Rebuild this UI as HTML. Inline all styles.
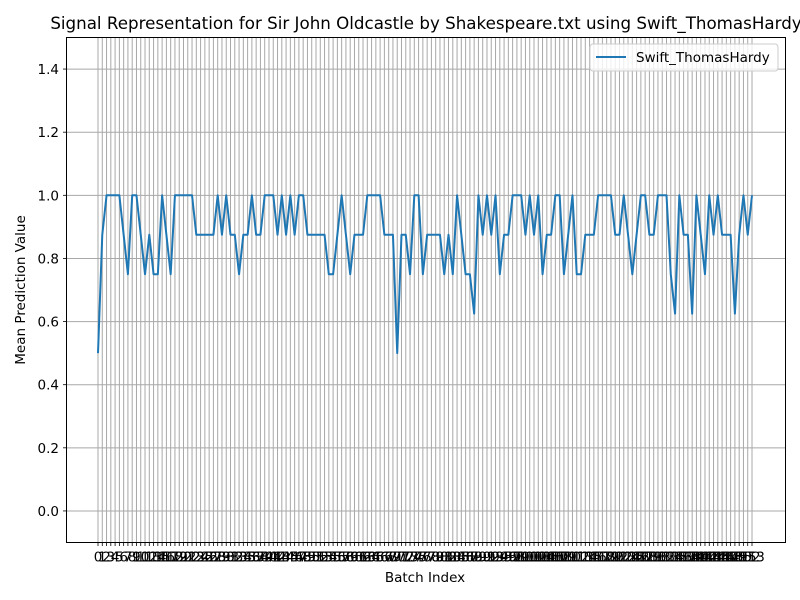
<!DOCTYPE html>
<html><head><meta charset="utf-8"><style>
body{margin:0;background:#fff}
svg{display:block;font-family:"DejaVu Sans","Liberation Sans",sans-serif}
</style></head><body>
<svg id="chart" width="800" height="600" viewBox="0 0 800 600">
<rect width="800" height="600" fill="#fff"/>
<text x="426" y="29" font-size="16.7" text-anchor="middle" fill="#000">Signal Representation for Sir John Oldcastle by Shakespeare.txt using Swift_ThomasHardy</text>
<g id="grid"></g>
<g id="xticks"></g>
<g id="yticks"></g>
<path id="line" fill="none" stroke="#1f77b4" stroke-width="2" stroke-linejoin="round"/>
<rect x="66.5" y="37.5" width="719" height="505" fill="none" stroke="#000" stroke-width="1"/>
<text x="425" y="582" font-size="13.5" text-anchor="middle">Batch Index</text>
<text transform="translate(25,290) rotate(-90)" font-size="13.5" text-anchor="middle">Mean Prediction Value</text>
<g>
<rect x="590" y="44" width="188" height="27" rx="3" fill="#fff" fill-opacity="0.8" stroke="#ccc"/>
<line x1="596" y1="57" x2="626" y2="57" stroke="#1f77b4" stroke-width="2"/>
<text x="636" y="62" font-size="13.5">Swift_ThomasHardy</text>
</g>
</svg>
<script>
const values=[0.5,0.875,1,1,1,1,0.875,0.75,1,1,0.875,0.75,0.875,0.75,0.75,1,0.875,0.75,1,1,1,1,1,0.875,0.875,0.875,0.875,0.875,1,0.875,1,0.875,0.875,0.75,0.875,0.875,1,0.875,0.875,1,1,1,0.875,1,0.875,1,0.875,1,1,0.875,0.875,0.875,0.875,0.875,0.75,0.75,0.875,1,0.875,0.75,0.875,0.875,0.875,1,1,1,1,0.875,0.875,0.875,0.5,0.875,0.875,0.75,1,1,0.75,0.875,0.875,0.875,0.875,0.75,0.875,0.75,1,0.875,0.75,0.75,0.625,1,0.875,1,0.875,1,0.75,0.875,0.875,1,1,1,0.875,1,0.875,1,0.75,0.875,0.875,1,1,0.75,0.875,1,0.75,0.75,0.875,0.875,0.875,1,1,1,1,0.875,0.875,1,0.875,0.75,0.875,1,1,0.875,0.875,1,1,1,0.75,0.625,1,0.875,0.875,0.625,1,0.875,0.75,1,0.875,1,0.875,0.875,0.875,0.625,0.875,1,0.875,1];
const yTicks=[0.0,0.2,0.4,0.6,0.8,1.0,1.2,1.4];
const NS="http://www.w3.org/2000/svg";
const x0=98,x1=752,yTop=37.5,yBot=542.5,yMin=-0.1,yMax=1.5;
const n=values.length;
function xs(i){return x0+(x1-x0)*i/(n-1);}
function ys(v){return yBot-(v-yMin)/(yMax-yMin)*(yBot-yTop);}
const grid=document.getElementById('grid'),xt=document.getElementById('xticks'),yt=document.getElementById('yticks');
function mk(tag,attrs,parent){const e=document.createElementNS(NS,tag);for(const k in attrs)e.setAttribute(k,attrs[k]);parent.appendChild(e);return e;}
for(let i=0;i<n;i++){
 const x=xs(i);
 const g=mk('line',{x1:x,x2:x,y1:yTop,y2:yBot,stroke:'#a8a8a8','stroke-width':1},grid);
 
 
 mk('line',{x1:x,x2:x,y1:yBot,y2:yBot+3.5,stroke:'#000','stroke-width':0.8},xt);
 const t=mk('text',{x:x,y:yBot+19,'font-size':13.5,'text-anchor':'middle'},xt);
 
 
 t.textContent=String(i);
}
yTicks.forEach(v=>{
 const y=ys(v);
 const g=mk('line',{x1:66.5,x2:785.5,y1:y,y2:y,stroke:'#a8a8a8','stroke-width':1},grid);
 
 
 mk('line',{x1:63,x2:66.5,y1:y,y2:y,stroke:'#000','stroke-width':0.8},yt);
 const t=mk('text',{x:59,y:y+5,'font-size':13.5,'text-anchor':'end'},yt);
 
 
 t.textContent=v.toFixed(1);
});
document.getElementById('line').setAttribute('d',values.map((v,i)=>(i?'L':'M')+xs(i).toFixed(2)+','+ys(v).toFixed(2)).join(''));
</script>
</body></html>
